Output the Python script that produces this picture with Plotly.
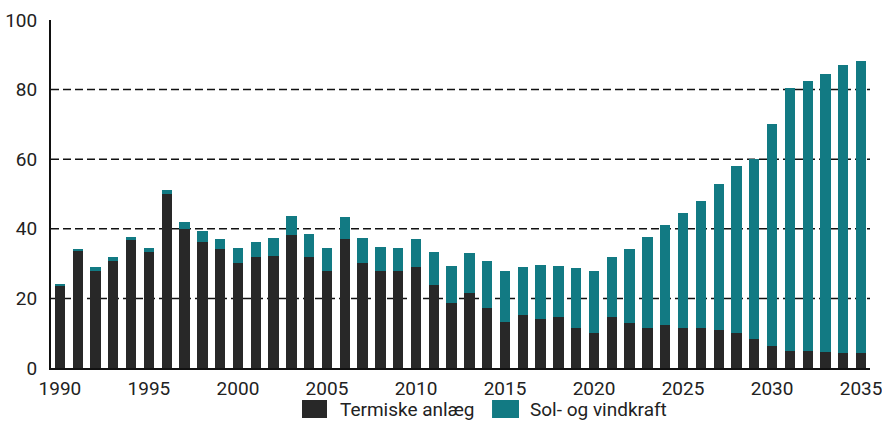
import plotly.graph_objects as go

years = list(range(1990, 2036))
termiske = [23.8, 33.7, 27.9, 30.7, 36.8, 33.4, 49.9, 39.9, 36.3, 34.1,
            30.1, 31.9, 32.3, 38.1, 31.9, 27.9, 37.1, 30.1, 27.9, 27.9,
            28.9, 23.8, 18.7, 21.6, 17.1, 13.1, 15.3, 14.2, 14.7, 11.6,
            10.2, 14.6, 12.8, 11.6, 12.4, 11.6, 11.6, 10.9, 10.2, 8.3,
            6.4, 5.0, 5.0, 4.7, 4.3, 4.3]
sol_vind = [0.4, 0.6, 1.0, 1.1, 0.9, 1.0, 1.2, 2.0, 3.1, 2.9,
            4.3, 4.4, 5.1, 5.5, 6.6, 6.5, 6.2, 7.3, 7.0, 6.5,
            8.1, 9.5, 10.6, 11.4, 13.7, 14.7, 13.6, 15.5, 14.6, 17.0,
            17.6, 17.3, 21.4, 26.1, 28.6, 32.8, 36.5, 42.0, 47.8, 51.9,
            63.8, 75.5, 77.4, 79.9, 82.9, 83.9]
series_names = ["Termiske anlæg", "Sol- og vindkraft"]
x_ticks = [1990, 1995, 2000, 2005, 2010, 2015, 2020, 2025, 2030, 2035]
y_ticks = [0, 20, 40, 60, 80, 100]

BLACK = "#282828"
TEAL = "#127a83"
FONT = "Roboto"
FS = 19
TXT = "#222222"

fig = go.Figure()
fig.add_trace(go.Bar(x=years, y=termiske, name=series_names[0],
                     marker=dict(color=BLACK, line=dict(width=0))))
fig.add_trace(go.Bar(x=years, y=sol_vind, name=series_names[1],
                     marker=dict(color=TEAL, line=dict(width=0))))

# dashed gridlines
for g in [20, 40, 60, 80]:
    fig.add_shape(type="line", xref="paper", yref="y", x0=0, x1=1, y0=g, y1=g,
                  line=dict(color="#111111", width=1.5, dash="8px,4px"), layer="below")

# legend (large swatches like the reference)
legend_items = [(series_names[0], BLACK, 0.3065, 0.337, 0.3529),
                (series_names[1], TEAL, 0.5385, 0.5714, 0.5849)]
for name, col, sx0, sx1, tx in legend_items:
    fig.add_shape(type="rect", xref="paper", yref="paper", x0=sx0, x1=sx1,
                  y0=-0.1437, y1=-0.092, fillcolor=col, line=dict(width=0))
    fig.add_annotation(text=name, xref="paper", yref="paper", x=tx, y=-0.1193,
                       xanchor="left", yanchor="middle", showarrow=False,
                       borderpad=0, borderwidth=0,
                       font=dict(family=FONT, size=FS, color=TXT))

fig.update_layout(
    barmode="stack",
    bargap=0.42,
    width=882, height=421,
    margin=dict(l=51, r=12, t=20, b=53, autoexpand=False),
    paper_bgcolor="white", plot_bgcolor="white",
    font=dict(family=FONT, size=FS, color=TXT),
    showlegend=False,
    hovermode=False,
    xaxis=dict(range=[1989.5, 2035.5], tickvals=x_ticks, ticktext=[str(t) for t in x_ticks],
               showgrid=False, zeroline=False, showline=True, linecolor="#111111",
               linewidth=2, ticks="", ticklabelstandoff=2, ticklabeloverflow="allow",
               tickfont=dict(family=FONT, size=FS, color=TXT)),
    yaxis=dict(range=[0, 100], tickvals=y_ticks, showgrid=False, zeroline=False,
               showline=True, linecolor="#111111", linewidth=2, ticks="",
               ticklabelstandoff=8,
               tickfont=dict(family=FONT, size=FS, color=TXT)),
)

fig.write_html("out.html", config={"displayModeBar": False},
               post_script="document.body.style.margin='0';document.body.style.overflow='hidden';")
